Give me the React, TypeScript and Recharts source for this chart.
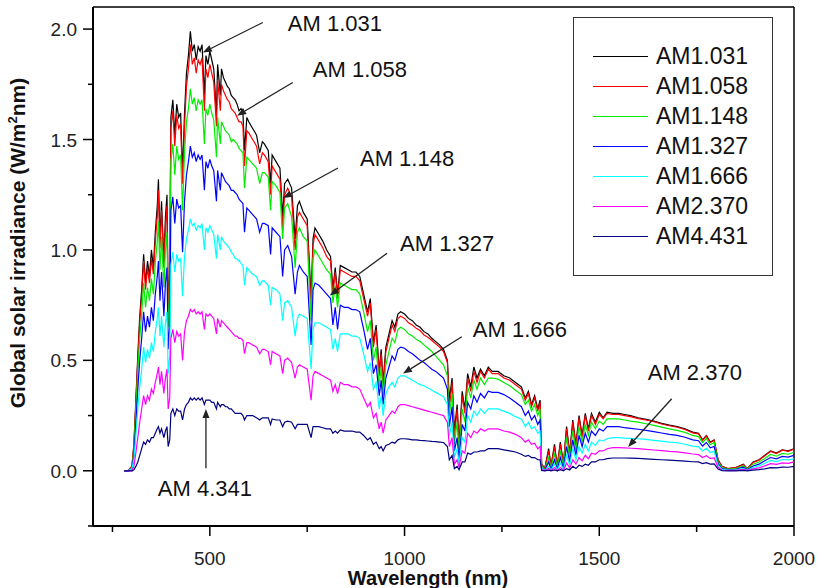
import React from 'react';
import { LineChart, Line, XAxis, YAxis, ReferenceLine, Legend } from 'recharts';

const wavelengths = [
  280,290,300,305,310,315,320,325,330,335,
  340,345,350,355,360,365,368,372,376,382,
  386,390,393,397,400,405,410,415,420,425,
  430,435,440,445,450,455,460,465,470,475,
  480,486,490,495,500,505,510,517,520,527,
  530,535,540,545,550,555,560,565,570,575,
  580,585,589,595,600,610,620,628,635,640,
  650,656,660,670,680,687,692,700,710,719,
  725,730,740,750,760,765,770,780,790,800,
  810,816,822,828,835,845,855,865,875,885,
  895,905,912,920,927,935,940,945,952,960,
  968,975,983,990,1000,1010,1020,1030,1040,1050,
  1060,1070,1080,1090,1100,1110,1115,1122,1128,1135,
  1140,1148,1155,1162,1170,1178,1186,1195,1205,1215,
  1225,1240,1255,1270,1285,1300,1310,1318,1326,1334,
  1342,1348,1352,1360,1370,1376,1385,1392,1400,1408,
  1416,1424,1432,1440,1448,1456,1464,1472,1480,1490,
  1500,1510,1520,1535,1550,1565,1580,1600,1620,1640,
  1660,1680,1700,1720,1740,1755,1765,1775,1785,1795,
  1805,1815,1830,1850,1870,1880,1895,1910,1925,1940,
  1955,1970,1985,2000,
];

const am1031 = [
  0,0,0.02,0.12,0.32,0.52,0.70,0.82,0.98,0.85,
  0.95,0.88,1.00,0.92,1.08,1.20,1.32,1.05,1.22,0.95,
  1.15,1.25,0.75,0.90,1.60,1.68,1.52,1.66,1.60,1.62,
  1.35,1.62,1.80,1.88,1.99,1.90,1.93,1.86,1.92,1.90,
  1.93,1.70,1.88,1.84,1.90,1.86,1.82,1.62,1.84,1.70,
  1.82,1.78,1.76,1.74,1.73,1.70,1.69,1.68,1.66,1.63,
  1.64,1.62,1.45,1.60,1.58,1.55,1.52,1.44,1.49,1.48,
  1.45,1.30,1.43,1.40,1.37,1.15,1.30,1.32,1.28,1.05,
  1.20,1.22,1.17,1.14,0.78,1.05,1.10,1.07,1.04,1.00,
  0.97,0.82,0.92,0.80,0.93,0.92,0.91,0.90,0.90,0.88,
  0.80,0.72,0.78,0.58,0.66,0.45,0.55,0.40,0.56,0.62,
  0.68,0.65,0.71,0.72,0.71,0.69,0.68,0.66,0.65,0.63,
  0.62,0.60,0.585,0.57,0.55,0.50,0.32,0.42,0.18,0.30,
  0.12,0.36,0.28,0.44,0.38,0.47,0.42,0.46,0.43,0.47,
  0.45,0.45,0.43,0.42,0.40,0.38,0.33,0.36,0.30,0.34,
  0.28,0.32,0.03,0.01,0.10,0.02,0.12,0.02,0.13,0.03,
  0.20,0.08,0.23,0.12,0.25,0.16,0.26,0.19,0.26,0.22,
  0.265,0.24,0.265,0.26,0.26,0.255,0.25,0.24,0.233,0.225,
  0.215,0.207,0.20,0.19,0.175,0.17,0.14,0.16,0.13,0.14,
  0.05,0.02,0.01,0.015,0.03,0.01,0.04,0.05,0.07,0.09,
  0.08,0.095,0.09,0.10,
];

const am1058 = [
  0,0,0.02,0.11,0.30,0.50,0.67,0.79,0.95,0.82,
  0.92,0.85,0.96,0.89,1.04,1.15,1.27,1.01,1.18,0.92,
  1.11,1.20,0.72,0.87,1.55,1.63,1.47,1.61,1.55,1.57,
  1.30,1.56,1.74,1.82,1.93,1.84,1.87,1.80,1.86,1.84,
  1.87,1.63,1.82,1.78,1.84,1.80,1.76,1.56,1.77,1.63,
  1.75,1.72,1.70,1.68,1.67,1.64,1.63,1.62,1.60,1.58,
  1.58,1.56,1.38,1.54,1.53,1.50,1.47,1.39,1.44,1.43,
  1.40,1.25,1.38,1.35,1.32,1.10,1.25,1.28,1.24,1.00,
  1.15,1.17,1.14,1.11,0.74,1.02,1.07,1.04,1.01,0.97,
  0.95,0.80,0.90,0.78,0.91,0.90,0.89,0.88,0.88,0.86,
  0.78,0.70,0.76,0.56,0.64,0.43,0.53,0.38,0.54,0.60,
  0.66,0.63,0.69,0.70,0.69,0.67,0.66,0.645,0.635,0.615,
  0.605,0.59,0.575,0.56,0.54,0.49,0.28,0.40,0.15,0.28,
  0.10,0.34,0.26,0.42,0.36,0.45,0.40,0.45,0.42,0.46,
  0.44,0.44,0.42,0.41,0.39,0.37,0.32,0.35,0.29,0.33,
  0.27,0.31,0.03,0.01,0.09,0.02,0.11,0.02,0.12,0.03,
  0.19,0.07,0.22,0.11,0.24,0.15,0.25,0.18,0.25,0.21,
  0.255,0.235,0.26,0.255,0.255,0.25,0.245,0.236,0.23,0.222,
  0.212,0.204,0.197,0.187,0.172,0.167,0.138,0.157,0.128,0.138,
  0.048,0.02,0.01,0.014,0.028,0.01,0.038,0.048,0.068,0.088,
  0.078,0.093,0.088,0.098,
];

const am1148 = [
  0,0,0.01,0.09,0.27,0.45,0.60,0.71,0.85,0.74,
  0.83,0.77,0.87,0.80,0.94,1.04,1.13,0.91,1.06,0.83,
  1.00,1.08,0.65,0.78,1.40,1.48,1.34,1.47,1.41,1.43,
  1.18,1.44,1.58,1.64,1.73,1.66,1.69,1.63,1.68,1.66,
  1.68,1.48,1.64,1.61,1.66,1.62,1.59,1.42,1.60,1.48,
  1.58,1.56,1.54,1.53,1.52,1.49,1.50,1.49,1.48,1.46,
  1.45,1.44,1.28,1.42,1.41,1.39,1.37,1.30,1.35,1.35,
  1.33,1.18,1.31,1.29,1.26,1.05,1.19,1.21,1.15,0.92,
  1.08,1.10,1.06,1.04,0.68,0.96,1.00,0.97,0.94,0.91,
  0.89,0.76,0.84,0.74,0.85,0.84,0.83,0.82,0.82,0.80,
  0.72,0.63,0.68,0.50,0.56,0.38,0.47,0.34,0.48,0.54,
  0.60,0.58,0.64,0.65,0.64,0.62,0.61,0.595,0.585,0.57,
  0.555,0.54,0.52,0.50,0.48,0.43,0.25,0.35,0.12,0.22,
  0.08,0.28,0.22,0.38,0.33,0.41,0.37,0.42,0.39,0.42,
  0.42,0.415,0.40,0.385,0.365,0.345,0.30,0.32,0.27,0.30,
  0.25,0.28,0.02,0.005,0.06,0.01,0.08,0.01,0.09,0.02,
  0.15,0.06,0.18,0.09,0.20,0.13,0.21,0.16,0.22,0.19,
  0.225,0.21,0.235,0.235,0.235,0.23,0.225,0.22,0.213,0.206,
  0.198,0.19,0.183,0.174,0.16,0.155,0.128,0.146,0.118,0.128,
  0.04,0.015,0.008,0.01,0.022,0.008,0.03,0.04,0.056,0.074,
  0.066,0.079,0.075,0.084,
];

const am1327 = [
  0,0,0.01,0.07,0.21,0.37,0.50,0.60,0.72,0.63,
  0.70,0.65,0.74,0.68,0.80,0.88,0.95,0.77,0.90,0.70,
  0.85,0.92,0.55,0.66,1.18,1.24,1.12,1.23,1.19,1.20,
  0.99,1.22,1.34,1.40,1.47,1.42,1.44,1.40,1.43,1.41,
  1.43,1.27,1.40,1.37,1.41,1.38,1.36,1.22,1.36,1.27,
  1.35,1.33,1.31,1.30,1.29,1.27,1.27,1.26,1.25,1.23,
  1.22,1.21,1.08,1.19,1.18,1.16,1.14,1.08,1.12,1.12,
  1.11,0.98,1.10,1.08,1.06,0.88,1.00,1.02,0.97,0.80,
  0.90,0.93,0.90,0.88,0.57,0.82,0.85,0.84,0.82,0.80,
  0.78,0.66,0.74,0.64,0.75,0.74,0.74,0.73,0.73,0.72,
  0.64,0.55,0.60,0.44,0.48,0.34,0.41,0.30,0.42,0.47,
  0.52,0.50,0.55,0.56,0.555,0.54,0.53,0.515,0.50,0.49,
  0.475,0.46,0.45,0.435,0.42,0.37,0.20,0.29,0.09,0.15,
  0.05,0.21,0.18,0.31,0.28,0.34,0.31,0.35,0.33,0.36,
  0.355,0.355,0.345,0.33,0.31,0.29,0.25,0.27,0.23,0.25,
  0.21,0.23,0.01,0.003,0.04,0.005,0.05,0.005,0.06,0.01,
  0.11,0.04,0.14,0.07,0.16,0.11,0.17,0.13,0.18,0.16,
  0.19,0.18,0.20,0.20,0.20,0.195,0.192,0.188,0.183,0.177,
  0.171,0.165,0.16,0.152,0.14,0.136,0.112,0.128,0.104,0.11,
  0.032,0.01,0.005,0.007,0.016,0.005,0.022,0.03,0.045,0.06,
  0.054,0.065,0.062,0.07,
];

const am1666 = [
  0,0,0.01,0.05,0.16,0.28,0.38,0.46,0.56,0.49,
  0.55,0.51,0.58,0.54,0.63,0.69,0.74,0.61,0.70,0.56,
  0.67,0.72,0.44,0.52,0.93,0.99,0.90,0.98,0.95,0.96,
  0.79,0.97,1.05,1.09,1.14,1.11,1.12,1.09,1.11,1.10,
  1.12,1.00,1.10,1.08,1.11,1.09,1.07,0.96,1.07,1.00,
  1.06,1.04,1.03,1.02,1.01,0.99,0.98,0.96,0.96,0.95,
  0.94,0.93,0.84,0.92,0.91,0.89,0.88,0.84,0.86,0.86,
  0.84,0.75,0.83,0.82,0.80,0.68,0.76,0.77,0.74,0.61,
  0.69,0.71,0.70,0.69,0.46,0.64,0.67,0.67,0.66,0.65,
  0.64,0.55,0.60,0.54,0.62,0.62,0.62,0.61,0.61,0.60,
  0.53,0.45,0.49,0.37,0.40,0.28,0.34,0.25,0.35,0.38,
  0.40,0.38,0.42,0.43,0.43,0.42,0.41,0.40,0.39,0.385,
  0.375,0.365,0.355,0.345,0.335,0.30,0.16,0.22,0.06,0.10,
  0.03,0.15,0.13,0.25,0.22,0.27,0.25,0.28,0.26,0.28,
  0.28,0.28,0.27,0.26,0.245,0.235,0.20,0.22,0.19,0.20,
  0.17,0.18,0.01,0.002,0.02,0.003,0.03,0.003,0.035,0.005,
  0.07,0.025,0.10,0.05,0.11,0.08,0.12,0.09,0.13,0.115,
  0.14,0.135,0.145,0.15,0.15,0.148,0.147,0.145,0.142,0.138,
  0.134,0.13,0.127,0.12,0.112,0.108,0.09,0.102,0.083,0.088,
  0.025,0.006,0.003,0.004,0.01,0.003,0.015,0.022,0.034,0.047,
  0.042,0.051,0.049,0.055,
];

const am2370 = [
  0,0,0,0.02,0.08,0.15,0.22,0.28,0.34,0.30,
  0.34,0.32,0.37,0.35,0.40,0.44,0.47,0.39,0.45,0.35,
  0.42,0.46,0.28,0.33,0.60,0.64,0.58,0.63,0.61,0.62,
  0.50,0.63,0.68,0.70,0.73,0.72,0.73,0.71,0.72,0.71,
  0.72,0.64,0.71,0.70,0.71,0.70,0.69,0.62,0.69,0.65,
  0.68,0.67,0.66,0.65,0.64,0.63,0.62,0.61,0.61,0.60,
  0.60,0.59,0.53,0.58,0.58,0.57,0.56,0.53,0.55,0.55,
  0.54,0.48,0.54,0.53,0.52,0.44,0.50,0.51,0.49,0.42,
  0.47,0.48,0.47,0.46,0.32,0.43,0.45,0.44,0.43,0.42,
  0.41,0.36,0.39,0.35,0.40,0.39,0.39,0.38,0.38,0.37,
  0.33,0.29,0.31,0.24,0.26,0.19,0.22,0.17,0.23,0.25,
  0.27,0.26,0.29,0.30,0.30,0.295,0.29,0.285,0.28,0.275,
  0.27,0.265,0.26,0.255,0.25,0.22,0.11,0.15,0.03,0.05,
  0.015,0.09,0.08,0.17,0.15,0.18,0.17,0.19,0.18,0.19,
  0.19,0.19,0.18,0.175,0.165,0.15,0.13,0.14,0.12,0.125,
  0.10,0.11,0.005,0.001,0.01,0.001,0.015,0.001,0.015,0.002,
  0.035,0.012,0.05,0.03,0.06,0.045,0.07,0.055,0.08,0.075,
  0.09,0.09,0.10,0.105,0.105,0.104,0.102,0.10,0.097,0.094,
  0.091,0.088,0.086,0.081,0.076,0.073,0.06,0.068,0.056,0.058,
  0.016,0.003,0.002,0.002,0.006,0.002,0.009,0.013,0.022,0.032,
  0.029,0.036,0.034,0.04,
];

const am4431 = [
  0,0,0,0.005,0.02,0.04,0.07,0.10,0.13,0.12,
  0.14,0.13,0.15,0.15,0.17,0.19,0.20,0.17,0.19,0.15,
  0.18,0.20,0.11,0.14,0.26,0.28,0.25,0.28,0.27,0.27,
  0.23,0.28,0.30,0.31,0.33,0.32,0.33,0.32,0.33,0.32,
  0.33,0.30,0.32,0.32,0.32,0.31,0.31,0.28,0.31,0.29,
  0.30,0.30,0.29,0.29,0.28,0.28,0.27,0.26,0.26,0.26,
  0.26,0.25,0.23,0.25,0.25,0.25,0.24,0.23,0.24,0.24,
  0.24,0.21,0.235,0.23,0.23,0.20,0.22,0.225,0.22,0.19,
  0.21,0.21,0.21,0.21,0.15,0.20,0.20,0.20,0.195,0.19,
  0.19,0.17,0.18,0.17,0.185,0.18,0.18,0.18,0.175,0.175,
  0.16,0.14,0.15,0.12,0.13,0.10,0.11,0.09,0.115,0.12,
  0.13,0.125,0.14,0.145,0.145,0.143,0.14,0.14,0.138,0.137,
  0.135,0.133,0.132,0.13,0.128,0.11,0.05,0.07,0.01,0.02,
  0.005,0.04,0.04,0.08,0.075,0.085,0.085,0.09,0.09,0.10,
  0.10,0.10,0.095,0.09,0.085,0.075,0.065,0.07,0.06,0.06,
  0.05,0.05,0.002,0,0.003,0,0.004,0,0.005,0,
  0.01,0.004,0.02,0.01,0.025,0.02,0.03,0.025,0.04,0.04,
  0.05,0.05,0.055,0.058,0.058,0.058,0.057,0.056,0.054,0.052,
  0.05,0.048,0.046,0.044,0.041,0.04,0.033,0.037,0.03,0.031,
  0.008,0.001,0,0,0.002,0,0.003,0.005,0.009,0.014,
  0.013,0.017,0.016,0.02,
];

const seriesNames = ['AM1.031', 'AM1.058', 'AM1.148', 'AM1.327', 'AM1.666', 'AM2.370', 'AM4.431'];
const seriesColors = ['#000000', '#ff0000', '#00ee00', '#0000ff', '#00ffff', '#ff00ff', '#000080'];
const seriesValues = [am1031, am1058, am1148, am1327, am1666, am2370, am4431];

const xTicks = [250, 500, 750, 1000, 1250, 1500, 1750, 2000];
const yTicks = [-0.25, 0, 0.25, 0.5, 0.75, 1.0, 1.25, 1.5, 1.75, 2.0];

// annotations: text, tail point, arrow tip point (data coords)
const annotationTexts = ['AM 1.031', 'AM 1.058', 'AM 1.148', 'AM 1.327', 'AM 1.666', 'AM 2.370', 'AM 4.341'];
const annotationTails = [[636, 2.03], [713, 1.758], [829, 1.371], [955, 0.985], [1147, 0.607], [1686, 0.326], [490, 0.012]];
const annotationTips = [[482, 1.894], [570, 1.608], [688, 1.235], [808, 0.794], [996, 0.44], [1574, 0.108], [490, 0.28]];
const annotationTextOffsets = [[25, 1, 'start'], [20, -14, 'start'], [22, -10, 'start'], [13, -10, 'start'], [11, -8, 'start'], [-24, -27, 'start'], [-1, 20, 'middle']];

const data = wavelengths.map((w, i) => {
  const row: any = { wl: w };
  seriesNames.forEach((n, k) => {
    row[n] = seriesValues[k][i];
  });
  return row;
});

const FONT = '"Liberation Sans", Arial, sans-serif';

const XTick = (props: any) => {
  const { x, y, payload } = props;
  const v = payload.value;
  const major = v % 500 === 0;
  return (
    <g>
      <line x1={x} x2={x} y1={y} y2={y + (major ? 10 : 6)} stroke="#000" strokeWidth={1.5} />
      {major && (
        <text x={x} y={y + 39} textAnchor="middle" fontSize={19} fill="#222" fontFamily={FONT}>
          {v}
        </text>
      )}
    </g>
  );
};

const YTick = (props: any) => {
  const { x, y, payload } = props;
  const v = payload.value;
  const major = Math.abs(v * 2 - Math.round(v * 2)) < 1e-9;
  return (
    <g>
      <line x1={x} x2={x - (major ? 10 : 5)} y1={y} y2={y} stroke="#000" strokeWidth={1.5} />
      {major && (
        <text x={x - 16} y={y + 7} textAnchor="end" fontSize={19} fill="#222" fontFamily={FONT}>
          {v.toFixed(1)}
        </text>
      )}
    </g>
  );
};

const makeArrowShape = (text: string, off: any) => (p: any) => {
  const { x1, y1, x2, y2 } = p;
  const dx = x2 - x1;
  const dy = y2 - y1;
  const len = Math.sqrt(dx * dx + dy * dy) || 1;
  const ux = dx / len;
  const uy = dy / len;
  const hl = 9;
  const hw = 3.5;
  const bx = x2 - ux * hl;
  const by = y2 - uy * hl;
  const pts = `${x2},${y2} ${bx - uy * hw},${by + ux * hw} ${bx + uy * hw},${by - ux * hw}`;
  return (
    <g>
      <line x1={x1} y1={y1} x2={bx} y2={by} stroke="#222" strokeWidth={1.3} />
      <polygon points={pts} fill="#222" />
      <text
        x={x1 + off[0]}
        y={y1 + off[1] + 8}
        textAnchor={off[2]}
        fontSize={22}
        fill="#111"
        fontFamily={FONT}
      >
        {text}
      </text>
    </g>
  );
};

const LegendBox = (props: any) => {
  const payload = props.payload || [];
  return (
    <div
      style={{
        boxSizing: 'border-box',
        width: 200,
        height: 259,
        border: '1.5px solid #333',
        background: '#fff',
        position: 'relative',
        fontFamily: FONT,
      }}
    >
      {payload.map((entry: any, i: number) => (
        <div key={i}>
          <div
            style={{
              position: 'absolute',
              left: 19,
              top: 38 + i * 30,
              width: 55,
              height: 0,
              borderTop: `1.5px solid ${entry.color}`,
            }}
          />
          <div
            style={{
              position: 'absolute',
              left: 82,
              top: 38 + i * 30 - 15,
              height: 30,
              lineHeight: '30px',
              fontSize: 23,
              color: '#111',
              whiteSpace: 'nowrap',
            }}
          >
            {entry.value}
          </div>
        </div>
      ))}
    </div>
  );
};

const YLabel = () => (
  <text
    transform="translate(25, 243) rotate(-90)"
    textAnchor="middle"
    fontSize={21}
    fontWeight="bold"
    fill="#111"
    fontFamily={FONT}
  >
    Global solar irradiance (W/m
    <tspan dy={-8} fontSize={13}>2</tspan>
    <tspan dy={8}>nm)</tspan>
  </text>
);

const XLabel = () => (
  <text x={428} y={585} textAnchor="middle" fontSize={20} fontWeight="bold" fill="#111" fontFamily={FONT}>
    Wavelength (nm)
  </text>
);

export default function App() {
  return (
    <div style={{ position: 'absolute', left: 0, top: 0, width: 818, height: 588, background: '#fff' }}>
      <LineChart width={818} height={588} data={data} margin={{ top: 7, right: 24, bottom: 0, left: 0 }}>
        <XAxis
          dataKey="wl"
          type="number"
          domain={[200, 2000]}
          ticks={xTicks}
          tick={<XTick />}
          tickLine={false}
          tickSize={0}
          tickMargin={0}
          height={62}
          axisLine={{ stroke: '#000', strokeWidth: 2 }}
          allowDataOverflow
          label={<XLabel />}
        />
        <YAxis
          type="number"
          domain={[-0.25, 2.1]}
          ticks={yTicks}
          tick={<YTick />}
          tickLine={false}
          tickSize={0}
          tickMargin={0}
          width={93}
          axisLine={{ stroke: '#000', strokeWidth: 2 }}
          allowDataOverflow
          label={<YLabel />}
        />
        <ReferenceLine y={2.1} stroke="#000" strokeWidth={1.5} />
        <ReferenceLine x={2000} stroke="#000" strokeWidth={1.5} />
        {seriesNames.map((n, k) => (
          <Line
            key={n}
            type="linear"
            dataKey={n}
            name={n}
            stroke={seriesColors[k]}
            strokeWidth={1.2}
            dot={false}
            activeDot={false}
            isAnimationActive={false}
          />
        ))}
        {annotationTexts.map((t, i) => (
          <ReferenceLine
            key={t}
            segment={[
              { x: annotationTails[i][0], y: annotationTails[i][1] },
              { x: annotationTips[i][0], y: annotationTips[i][1] },
            ]}
            ifOverflow="visible"
            shape={makeArrowShape(t, annotationTextOffsets[i])}
          />
        ))}
        <Legend
          layout="horizontal"
          verticalAlign="middle"
          align="center"
          content={<LegendBox />}
          wrapperStyle={{ position: 'absolute', left: 573, top: 17, width: 200, height: 259 }}
        />
      </LineChart>
    </div>
  );
}
